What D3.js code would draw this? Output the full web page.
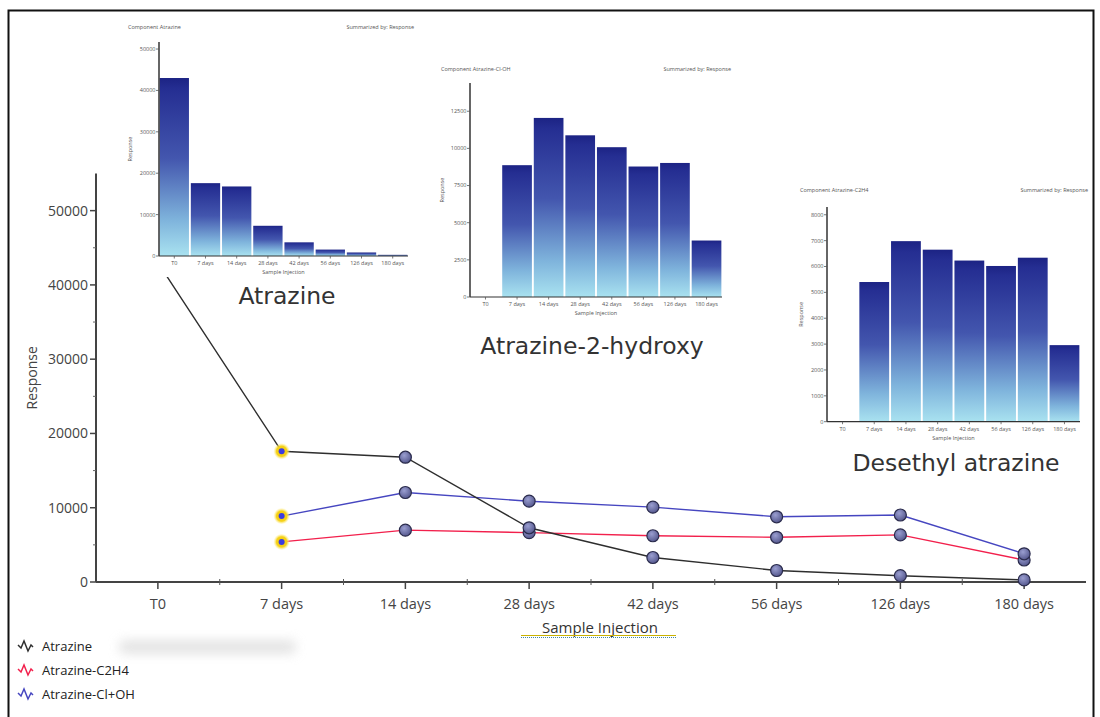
<!DOCTYPE html>
<html>
<head>
<meta charset="utf-8">
<script src="https://cdn.jsdelivr.net/npm/d3@7"></script>
<style>
  html, body { margin: 0; padding: 0; background: #fff; }
  svg { display: block; }
</style>
</head>
<body>
<svg id="chart" width="1100" height="717"></svg>
<script>
// ---------------- DATA ----------------
const categories = ["T0", "7 days", "14 days", "28 days", "42 days", "56 days", "126 days", "180 days"];
const atrazine   = [43000, 17600, 16800, 7300, 3300, 1550, 850, 280];
const c2h4       = [null, 5400, 6980, 6650, 6230, 6020, 6340, 2960];
const clOh       = [null, 8870, 12050, 10880, 10080, 8780, 9020, 3800];
const mainYTicks = [0, 10000, 20000, 30000, 40000, 50000];
const seriesNames = ["Atrazine", "Atrazine-C2H4", "Atrazine-Cl+OH"];
const seriesColors = ["#2e2e2e", "#f2204c", "#4646c0"];
const insetNames = ["Atrazine", "Atrazine-Cl-OH", "Atrazine-C2H4"];
const insetLabels = ["Atrazine", "Atrazine-2-hydroxy", "Desethyl atrazine"];
const inset1Ticks = [0, 10000, 20000, 30000, 40000, 50000];
const inset2Ticks = [0, 2500, 5000, 7500, 10000, 12500];
const inset3Ticks = [0, 1000, 2000, 3000, 4000, 5000, 6000, 7000, 8000];

// ---------------- SETUP ----------------
const svg = d3.select("#chart");
const defs = svg.append("defs");
const font = "'Open Sans', 'Noto Sans', sans-serif";

const grad = defs.append("linearGradient").attr("id", "barGrad")
  .attr("x1", 0).attr("y1", 0).attr("x2", 0).attr("y2", 1);
[["0%", "#1c2384"], ["6%", "#252e92"], ["45%", "#4356ae"], ["80%", "#7fb4dc"], ["100%", "#a9e2f0"]]
  .forEach(([o, c]) => grad.append("stop").attr("offset", o).attr("stop-color", c));

const ptGrad = defs.append("radialGradient").attr("id", "ptGrad")
  .attr("cx", "40%").attr("cy", "35%").attr("r", "65%");
ptGrad.append("stop").attr("offset", "0%").attr("stop-color", "#9a9ed0");
ptGrad.append("stop").attr("offset", "100%").attr("stop-color", "#56598f");

const glow = defs.append("radialGradient").attr("id", "glow");
glow.append("stop").attr("offset", "0%").attr("stop-color", "#f2c800");
glow.append("stop").attr("offset", "65%").attr("stop-color", "#f6d21a");
glow.append("stop").attr("offset", "100%").attr("stop-color", "#fff3a0").attr("stop-opacity", 0.2);

const blur = defs.append("filter").attr("id", "blur").attr("x", "-50%").attr("y", "-100%")
  .attr("width", "200%").attr("height", "300%");
blur.append("feGaussianBlur").attr("stdDeviation", 6);

// frame
svg.append("path")
  .attr("d", "M8.5,717 V10.5 H1093.5 V717")
  .attr("fill", "none").attr("stroke", "#111").attr("stroke-width", 2);

// ---------------- MAIN CHART ----------------
const x = d3.scalePoint().domain(categories).range([96, 1086]).padding(0.5);
const y = d3.scaleLinear().domain([0, 55000]).range([582, 173.5]);

const main = svg.append("g");

// y axis
main.append("line").attr("x1", 96).attr("x2", 96).attr("y1", y(55000)).attr("y2", y(0))
  .attr("stroke", "#444").attr("stroke-width", 2);
main.selectAll(".ymin").data(d3.range(5000, 55000, 10000)).join("line")
  .attr("x1", 93).attr("x2", 96).attr("y1", d => y(d)).attr("y2", d => y(d))
  .attr("stroke", "#666").attr("stroke-width", 1);
main.selectAll(".ytick").data(mainYTicks).join("line")
  .attr("x1", 90).attr("x2", 96).attr("y1", d => y(d)).attr("y2", d => y(d))
  .attr("stroke", "#444").attr("stroke-width", 1.5);
main.selectAll(".ylab").data(mainYTicks).join("text")
  .attr("x", 88).attr("y", d => y(d)).attr("dy", "0.35em")
  .attr("text-anchor", "end").attr("font-family", font).attr("font-size", 14)
  .attr("fill", "#444").text(d => d);
main.append("text")
  .attr("transform", `translate(37,${y(27500)}) rotate(-90)`)
  .attr("text-anchor", "middle").attr("font-family", font).attr("font-size", 14)
  .attr("fill", "#444").text("Response");

// x axis
main.append("line").attr("x1", 96).attr("x2", 1086).attr("y1", 582).attr("y2", 582)
  .attr("stroke", "#444").attr("stroke-width", 2);
main.selectAll(".xtick").data(categories).join("line")
  .attr("x1", d => x(d)).attr("x2", d => x(d)).attr("y1", 582).attr("y2", 589)
  .attr("stroke", "#444").attr("stroke-width", 1.5);
main.selectAll(".xmin").data(categories.slice(1)).join("line")
  .attr("x1", d => x(d) - x.step() / 2).attr("x2", d => x(d) - x.step() / 2)
  .attr("y1", 579).attr("y2", 585).attr("stroke", "#555").attr("stroke-width", 1);
main.selectAll(".xlab").data(categories).join("text")
  .attr("x", d => x(d)).attr("y", 604).attr("dy", "0.35em")
  .attr("text-anchor", "middle").attr("font-family", font).attr("font-size", 14.5)
  .attr("fill", "#444").text(d => d);
main.append("text").attr("x", 600).attr("y", 628).attr("dy", "0.35em")
  .attr("text-anchor", "middle").attr("font-family", font).attr("font-size", 15)
  .attr("fill", "#333").text("Sample Injection");
main.append("line").attr("x1", 521).attr("x2", 676).attr("y1", 635.5).attr("y2", 635.5)
  .attr("stroke", "#c9b200").attr("stroke-width", 1);
main.append("line").attr("x1", 521).attr("x2", 676).attr("y1", 637.5).attr("y2", 637.5)
  .attr("stroke", "#3f86a8").attr("stroke-width", 1.2).attr("stroke-dasharray", "1,1");

// lines
const seriesData = [atrazine, c2h4, clOh];
const line = d3.line().defined(d => d.v !== null).x(d => x(d.c)).y(d => y(d.v));
const series = seriesData.map((arr, i) => ({ i, pts: categories.map((c, j) => ({ c, v: arr[j] })) }));
[1, 2, 0].forEach(i => {
  main.append("path").datum(series[i].pts).attr("d", line)
    .attr("fill", "none").attr("stroke", seriesColors[i]).attr("stroke-width", 1.4);
});
// points
[1, 2, 0].forEach(i => {
  const pts = series[i].pts.filter(d => d.v !== null);
  pts.forEach(d => {
    if (d.c === "7 days") {
      main.append("circle").attr("cx", x(d.c)).attr("cy", y(d.v)).attr("r", 8)
        .attr("fill", "url(#glow)");
      main.append("circle").attr("cx", x(d.c)).attr("cy", y(d.v)).attr("r", 3)
        .attr("fill", "#3c3ce0");
    } else {
      main.append("circle").attr("cx", x(d.c)).attr("cy", y(d.v)).attr("r", 6)
        .attr("fill", "url(#ptGrad)").attr("stroke", "#2a2b4c").attr("stroke-width", 1.2);
    }
  });
});

// legend
svg.append("rect").attr("x", 120).attr("y", 641).attr("width", 175).attr("height", 12)
  .attr("fill", "#d8d8d8").attr("filter", "url(#blur)").attr("opacity", 0.8);
const leg = svg.append("g");
seriesNames.forEach((n, i) => {
  const cy = 646 + i * 24;
  leg.append("path")
    .attr("d", `M18,${cy - 1} l3,3 l3,-7 l4,10 l3,-6 l2,2`)
    .attr("fill", "none").attr("stroke", seriesColors[i]).attr("stroke-width", 1.5);
  leg.append("text").attr("x", 42).attr("y", cy).attr("dy", "0.35em")
    .attr("font-family", font).attr("font-size", 13).attr("fill", "#222").text(n);
});

// ---------------- INSETS ----------------
function inset(cfg) {
  const g = svg.append("g");
  g.append("rect").attr("x", cfg.bg[0]).attr("y", cfg.bg[1]).attr("width", cfg.bg[2]).attr("height", cfg.bg[3])
    .attr("fill", "#fff");
  const ys = d3.scaleLinear().domain([0, cfg.max]).range([cfg.y0, cfg.yTop]);
  const xs = d3.scaleBand().domain(categories).range([cfg.x0, cfg.x1]).paddingInner(0.06).paddingOuter(0.02);
  // bars
  g.selectAll("rect.bar").data(categories.map((c, j) => ({ c, v: cfg.values[j] })).filter(d => d.v !== null))
    .join("rect").attr("class", "bar")
    .attr("x", d => xs(d.c)).attr("width", xs.bandwidth())
    .attr("y", d => ys(d.v)).attr("height", d => ys(0) - ys(d.v))
    .attr("fill", "url(#barGrad)");
  // axes
  g.append("line").attr("x1", cfg.x0).attr("x2", cfg.x0).attr("y1", cfg.yTop).attr("y2", cfg.y0)
    .attr("stroke", "#333").attr("stroke-width", 1.5);
  g.append("line").attr("x1", cfg.x0).attr("x2", cfg.x1).attr("y1", cfg.y0).attr("y2", cfg.y0)
    .attr("stroke", "#333").attr("stroke-width", 1.2);
  g.selectAll(".yt").data(cfg.ticks).join("line")
    .attr("x1", cfg.x0 - 3).attr("x2", cfg.x0).attr("y1", d => ys(d)).attr("y2", d => ys(d))
    .attr("stroke", "#555").attr("stroke-width", 0.8);
  g.selectAll(".yl").data(cfg.ticks).join("text")
    .attr("x", cfg.x0 - 3.5).attr("y", d => ys(d)).attr("dy", "0.35em")
    .attr("text-anchor", "end").attr("font-family", font).attr("font-size", 5.5)
    .attr("fill", "#555").text(d => d);
  g.selectAll(".xt").data(categories).join("line")
    .attr("x1", d => xs(d) + xs.bandwidth() / 2).attr("x2", d => xs(d) + xs.bandwidth() / 2)
    .attr("y1", cfg.y0).attr("y2", cfg.y0 + 2.5).attr("stroke", "#555").attr("stroke-width", 0.8);
  g.selectAll(".xl").data(categories).join("text")
    .attr("x", d => xs(d) + xs.bandwidth() / 2).attr("y", cfg.y0 + 7.5).attr("dy", "0.35em")
    .attr("text-anchor", "middle").attr("font-family", font).attr("font-size", 5.5)
    .attr("fill", "#555").text(d => d);
  g.append("text").attr("x", (cfg.x0 + cfg.x1) / 2).attr("y", cfg.y0 + 16).attr("dy", "0.35em")
    .attr("text-anchor", "middle").attr("font-family", font).attr("font-size", 5.5)
    .attr("fill", "#555").text("Sample Injection");
  g.append("text").attr("transform", `translate(${cfg.yTitleX},${(cfg.yTop + cfg.y0) / 2}) rotate(-90)`)
    .attr("text-anchor", "middle").attr("font-family", font).attr("font-size", 5.5)
    .attr("fill", "#555").text("Response");
  g.append("text").attr("x", cfg.titleX).attr("y", cfg.titleY).attr("dy", "0.35em")
    .attr("font-family", font).attr("font-size", 5.5).attr("fill", "#555").text("Component " + cfg.name);
  g.append("text").attr("x", cfg.sumX).attr("y", cfg.titleY).attr("dy", "0.35em")
    .attr("text-anchor", "end").attr("font-family", font).attr("font-size", 5.5)
    .attr("fill", "#555").text("Summarized by: Response");
}

inset({ bg: [118, 14, 305, 263], name: insetNames[0], values: atrazine, max: 51700, ticks: inset1Ticks,
  x0: 159, x1: 408, y0: 256, yTop: 42, yTitleX: 132, titleX: 128, titleY: 27, sumX: 414 });
inset({ bg: [430, 58, 312, 268], name: insetNames[1], values: clOh, max: 14400, ticks: inset2Ticks,
  x0: 470, x1: 722, y0: 297, yTop: 83, yTitleX: 444, titleX: 441, titleY: 69, sumX: 731 });
inset({ bg: [790, 178, 302, 270], name: insetNames[2], values: c2h4, max: 8300, ticks: inset3Ticks,
  x0: 827, x1: 1080, y0: 421.7, yTop: 207, yTitleX: 803, titleX: 800, titleY: 190, sumX: 1088 });

// big annotation labels
const annFont = "'DejaVu Sans', Verdana, sans-serif";
[[287, 304, insetLabels[0]], [592, 354, insetLabels[1]], [956, 471, insetLabels[2]]].forEach(([ax, ay, t]) => {
  svg.append("text").attr("x", ax).attr("y", ay).attr("text-anchor", "middle")
    .attr("font-family", annFont).attr("font-size", 23.5).attr("fill", "#333").text(t);
});
</script>
</body>
</html>
